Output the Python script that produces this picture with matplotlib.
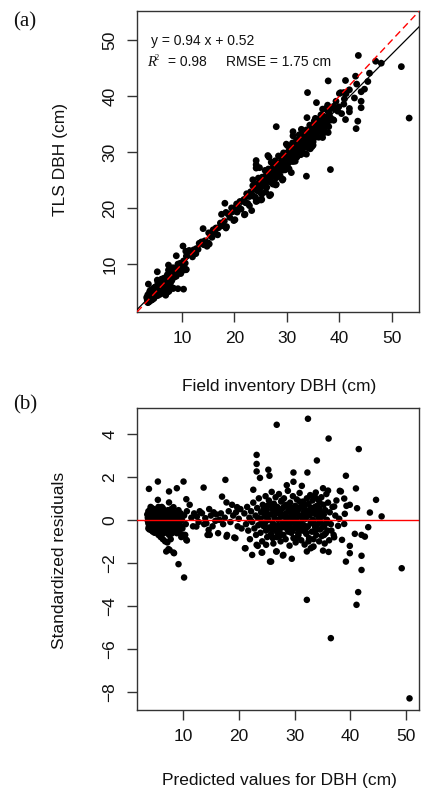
import numpy as np
import matplotlib
matplotlib.use("Agg")
import matplotlib.pyplot as plt

# ---- data: predicted DBH and standardized residuals ----
pred_left = [3.6, 3.7, 3.8, 3.9, 3.9, 4.0, 4.1, 4.1, 4.2, 4.3, 4.3, 4.4, 4.5, 4.5, 4.6, 4.7, 4.7, 4.8, 4.9, 4.9,
             5.0, 5.1, 5.1, 5.2, 5.3, 5.3, 5.4, 5.5, 5.5, 5.5, 5.6, 5.6, 5.7, 5.8, 5.8, 5.9, 6.0, 6.0, 6.1, 6.2,
             6.2, 6.3, 6.4, 6.4, 6.5, 6.6, 6.6, 6.7, 6.8, 6.8, 6.9, 7.0, 7.0, 7.1, 7.2, 7.2, 7.3, 7.4, 7.4, 7.5,
             7.5, 7.5, 7.6, 7.6, 7.7, 7.8, 7.8, 7.9, 8.0, 8.1, 8.2, 8.3, 8.3, 8.4, 8.4, 8.5, 8.6, 8.7, 8.8, 8.9,
             8.9, 9.0, 9.1, 9.2, 9.2, 9.3, 9.4, 9.5, 9.6, 9.7, 9.8, 9.9, 10.1, 10.1, 10.2, 10.2, 10.4, 10.5, 10.6, 10.6,
             10.7, 10.7, 11.2, 4.0, 4.4, 4.6, 5.0, 5.2, 5.4, 5.7, 6.0, 6.3, 6.5, 6.9, 7.1, 7.3, 7.7, 8.0, 8.2, 8.6,
             9.0, 9.4, 9.7, 3.8, 4.2, 4.8, 5.6, 6.1, 6.7, 7.9,
             3.7, 3.9, 4.1, 4.3, 4.5, 4.6, 4.8, 5.0, 5.1, 5.3, 5.4, 5.6, 5.8, 5.9, 6.1, 6.3, 6.5, 6.6, 6.8, 7.0,
             7.2, 7.4, 7.6, 7.8, 8.1, 8.3, 8.5, 8.8, 9.1, 9.3, 3.8, 4.2, 4.6, 5.2, 5.7, 6.2, 6.9, 7.3, 8.0, 8.7]
res_left = [0.25, -0.05, 0.4, 1.44, -0.2, 0.1, 0.47, -0.35, 0.0, -0.15, 0.3, -0.5, 0.15, -0.25, 0.05, -0.4, 0.35, -0.1, 0.2, -0.6,
            0.0, -0.3, 0.45, -0.15, 0.1, -0.55, 0.25, 1.78, 0.93, -0.2, -0.7, 0.05, 0.35, -0.35, 0.15, -0.05, -0.8, 0.3, 0.1, -0.45,
            0.6, -0.2, 0.54, -0.9, 0.0, -0.3, 0.2, -0.6, 0.4, -1.0, -0.15, -1.47, 0.15, -0.5, -1.05, 0.25, -0.25, -1.36, 0.0, 1.32,
            0.81, -0.7, -1.40, 0.3, -0.4, -0.9, 0.1, 0.5, -0.2, -0.6, 0.2, 0.59, -1.52, -1.55, -0.1, 0.35, -0.45, 0.05, -0.3, 1.47,
            -0.62, 0.25, -0.15, -2.06, 0.45, -0.5, 0.1, -0.25, 0.3, -0.8, 0.0, -0.4, 1.78, -0.70, -2.68, 0.2, -0.70, -0.2, 0.96, -0.93,
            -0.96, 0.4, 0.70, -0.45, 0.55, -0.3, 0.4, -0.45, -0.35, -0.5, 0.45, 0.15, -0.6, 0.35, -0.2, 0.45, 0.0, 0.3, -0.35, 0.15,
            -0.35, -0.6, 0.15, -0.4, 0.6, 0.5, 0.6, -0.75, -0.1, -0.65,
            0.1, -0.3, 0.2, -0.45, 0.35, -0.1, -0.3, 0.15, -0.5, 0.35, -0.05, 0.2, -0.55, 0.05, 0.25, -0.4, 0.3, -0.15, -0.45, -0.3,
            -0.1, 0.25, -0.2, 0.35, 0.05, -0.25, -0.5, 0.15, 0.05, -0.1, -0.15, 0.15, -0.55, -0.05, 0.1, -0.15, -0.35, -0.55, -0.45, -0.1]

pred_mid = [11.5, 11.8, 12.0, 12.4, 12.5, 12.8, 13.0, 13.4, 13.7, 13.8, 14.0, 14.2, 14.4, 14.6, 14.7, 14.8, 15.0, 15.3, 15.5, 15.8,
            16.0, 16.3, 16.5, 16.8, 17.0, 17.2, 17.5, 17.6, 17.8, 17.8, 17.9, 18.2, 18.5, 18.8, 19.0, 19.2, 19.4, 19.5, 19.7, 19.8,
            20.0, 20.3, 20.5]
res_mid = [0.1, -0.3, 0.3, -0.31, 0.15, -0.1, 0.4, 0.31, 1.50, -0.2, 0.08, -0.16, -0.70, -0.47, 0.50, -0.70, 0.2, -0.3, 0.35, -0.05,
           0.25, -0.62, 0.0, 0.3, 1.08, -0.2, 0.1, 1.86, 0.81, -0.78, -0.70, 0.4, -0.1, 0.70, 0.2, -0.82, -0.85, 0.35, 0.59, -0.3,
           0.05, 0.5, -0.4]

pred_dense = [22.6, 23.2, 23.2, 23.2, 23.8, 25.3, 25.5, 26.8, 32.4, 36.1, 34.0, 32.3, 29.8, 29.8, 28.6, 31.3, 33.8, 35.1, 36.0, 21.2,
              22.4, 24.2, 23.4, 25.6, 21.1, 24.1, 26.7, 27.9, 29.5, 32.2, 33.2, 35.1, 36.1, 23.2, 24.9, 32.2, 36.5, 33.4, 32.9, 28.0,
              26.8, 25.8,
              21.0, 21.3, 21.5, 21.7, 21.9, 22.0, 22.2, 22.4, 22.6, 22.8, 23.0, 23.1, 23.3, 23.5, 23.6, 23.8, 23.9, 24.0, 24.2, 24.3,
              24.5, 24.6, 24.8, 24.9, 25.0, 25.1, 25.3, 25.4, 25.5, 25.7, 25.8, 25.9, 26.0, 26.1, 26.2, 26.3, 26.4, 26.5, 26.6, 26.7,
              26.8, 26.9, 27.0, 27.1, 27.2, 27.3, 27.4, 27.5, 27.6, 27.7, 27.8, 27.9, 28.0, 28.1, 28.2, 28.3, 28.4, 28.5, 28.6, 28.7,
              28.8, 28.9, 29.0, 29.1, 29.2, 29.3, 29.4, 29.5, 29.6, 29.7, 29.8, 29.9, 30.0, 30.1, 30.2, 30.3, 30.4, 30.5, 30.6, 30.7,
              30.8, 30.9, 31.0, 31.1, 31.2, 31.3, 31.4, 31.5, 31.6, 31.7, 31.8, 31.9, 32.0, 32.1, 32.2, 32.3, 32.4, 32.5, 32.6, 32.7,
              32.8, 32.9, 33.0, 33.1, 33.2, 33.3, 33.4, 33.5, 33.6, 33.7, 33.8, 33.9, 34.0, 34.1, 34.2, 34.3, 34.4, 34.5, 34.6, 34.7,
              34.8, 34.9, 35.0, 35.2, 35.3, 35.4, 35.5, 35.6, 35.7, 35.8, 35.9, 36.0, 36.2, 36.3, 36.5, 36.6, 36.8, 37.0, 37.1, 37.1,
              37.3,
              22.1, 23.4, 24.7, 25.2, 26.35, 27.15, 27.95, 28.45, 29.25, 29.85, 30.35, 30.95, 31.55, 32.15, 32.85, 33.45, 34.15, 34.65,
              35.25, 25.6, 26.9, 28.75, 30.65, 31.85, 33.65, 35.65, 24.45, 27.55, 29.55, 31.35,
              24.1, 24.9, 25.7, 26.5, 27.3, 28.1, 28.9, 29.7, 30.5, 31.3, 32.1, 32.9, 33.7, 34.5, 35.3, 25.1, 26.1, 27.7, 29.1, 30.9,
              32.5, 34.3, 26.3, 28.3, 30.1, 31.7, 33.3, 35.0, 27.0, 29.9]
res_dense = [1.4, 3.02, 2.6, 2.25, 1.95, 2.33, 2.05, 4.42, 4.7, 3.78, 2.76, 2.2, 2.2, 1.77, 1.61, 1.58, 1.27, 1.47, 1.36, -1.32,
             -1.63, -1.52, -1.21, -1.94, -1.32, -1.52, -1.47, -1.66, -1.81, -1.47, -1.27, -1.43, -1.49, -1.16, -1.16, -3.72, -5.5, -1.24, -1.32, -1.63,
             -1.47, -1.94,
             0.3, -0.2, 0.6, -0.5, 0.1, -0.9, 0.4, -0.1, 0.8, -0.4, 0.2, -0.7, 0.55, -0.25, 1.0, 0.05, -0.6, 0.35, -1.0, 0.7,
             -0.3, 0.15, 1.1, -0.5, 0.45, -0.8, 0.0, 0.9, -0.35, 0.25, -0.65, 1.3, 0.5, -0.15, -1.1, 0.75, 0.1, -0.45, 1.05, 0.3,
             -0.8, 0.6, -0.25, 0.0, 1.2, -0.55, 0.4, -1.0, 0.85, 0.15, -0.35, 0.55, -0.7, 1.0, 0.25, -0.1, -0.9, 0.7, 0.05, -0.45,
             1.35, 0.4, -0.2, -1.2, 0.8, 0.15, -0.6, 0.5, -0.05, 1.1, -0.85, 0.3, -0.4, 0.65, -1.05, 0.0, 0.95, -0.3, 0.45, -0.7,
             0.2, 1.25, -0.15, 0.6, -0.95, 0.1, -0.5, 0.85, 0.35, -0.25, -1.15, 0.7, 0.05, -0.6, 1.0, 0.4, -0.3, 0.75, -0.85, 0.2,
             1.15, -0.1, 0.55, -0.55, 0.9, 0.0, -0.9, 0.45, 1.1, -0.35, 0.25, -0.7, 0.65, -0.2, 0.95, 0.1, -1.0, 0.5, -0.45, 0.3,
             1.05, -0.75, 0.15, 0.7, -0.3, -1.1, 0.45, -0.62, 1.2, 0.0, -0.5, 0.8, -0.95, 0.35, -0.2, -0.50, 0.6, -0.7, 0.62, -0.81,
             0.2,
             0.0, 0.1, -0.15, 0.2, -0.3, 0.45, -0.15, 0.3, -0.35, 0.1, 0.35, -0.45, 0.05, -0.35, 0.3, -0.2, 0.4, -0.1,
             0.25, 0.7, -0.6, 0.65, -0.6, 0.5, 0.6, -0.15, 0.5, 0.2, -0.55, -0.3,
             -0.2, 0.3, -0.4, 0.5, -0.75, 0.6, -0.55, 0.35, -0.8, 0.7, -0.65, 0.55, -0.5, 0.8, -0.7, 0.65, -0.85, 0.9, 0.6, 0.85,
             -1.0, 0.55, 0.4, -0.3, -0.2, 0.25, -0.1, -0.35, -0.5, 0.45]

pred_high = [37.8, 38.1, 38.3, 38.5, 38.9, 38.9, 39.0, 39.2, 39.2, 39.3, 39.9, 39.9, 39.9, 40.8, 41.0, 41.1, 41.2, 41.4, 41.5, 42.0,
             42.0, 42.0, 42.6, 43.2, 43.5, 44.6, 45.6, 49.2, 50.6, 37.5, 38.0]
res_high = [-0.28, 1.35, 1.32, -0.93, 0.99, -0.19, 0.28, 2.05, -1.94, 0.65, 0.70, -1.21, -1.55, -0.65, 1.46, -3.95, 0.54, -3.36, 3.29, -0.70,
            -1.67, -2.33, -0.78, -0.34, 0.34, 0.93, 0.16, -2.25, -8.3, 0.9, 0.05]

slope, intercept, rmse = 0.94, 0.52, 1.75
x_ticks = [10, 20, 30, 40, 50]
y_ticks_top = [10, 20, 30, 40, 50]
y_ticks_bot = [-8, -6, -4, -2, 0, 2, 4]

pred = np.array(pred_left + pred_mid + pred_dense + pred_high)
stdres = np.array(res_left + res_mid + res_dense + res_high)
# reconstruct field and TLS DBH from the fitted line
field = (pred - intercept) / slope
tls = pred + stdres * rmse

W, H = 422, 794
fig = plt.figure(figsize=(W / 100, H / 100), dpi=100)
FONT = ["Liberation Sans", "DejaVu Sans"]
SERIF = ["Liberation Serif", "DejaVu Serif"]
plt.rcParams['font.family'] = FONT
TC = '#111111'

def ax_rect(l, t, r, b):
    return [l / W, 1 - b / H, (r - l) / W, (b - t) / H]

def style(ax, xt, yt):
    for s in ax.spines.values():
        s.set_linewidth(1.0)
        s.set_color("#333333")
    ax.set_xticks(xt)
    ax.set_yticks(yt)
    ax.tick_params(axis='both', direction='out', length=7, width=1, color="#333333",
                   labelsize=12.5, labelcolor=TC)
    ax.tick_params(axis='x', pad=7)
    ax.tick_params(axis='y', pad=7)
    for lab in ax.get_yticklabels():
        lab.set_rotation(90)
        lab.set_va('center')

# ---- top panel ----
ax1 = fig.add_axes(ax_rect(137, 11, 419, 312))
ax1.set_xlim(1.43, 55.15)
ax1.set_ylim(1.43, 55.2)
ax1.scatter(field, tls, s=24, color='black', edgecolors='none', zorder=2)
ax1.axline((0, intercept), slope=slope, color='black', lw=0.9, zorder=3)
ax1.axline((0, 0), slope=1, color='red', lw=1.0, ls=(0, (5, 3)), zorder=4)
style(ax1, x_ticks, y_ticks_top)
fig.text(151 / W, 1 - 41 / H, 'y = 0.94 x + 0.52', fontsize=10, va='center', ha='left', color=TC)
fig.text(147 / W, 1 - 62 / H, 'R', fontsize=10.5, va='center', ha='left', family=SERIF,
         style='italic', color=TC)
fig.text(155 / W, 1 - 58 / H, '2', fontsize=6, va='center', ha='left', family=SERIF, color=TC)
fig.text(168 / W, 1 - 62 / H, '= 0.98', fontsize=10, va='center', ha='left', color=TC)
fig.text(226 / W, 1 - 62 / H, 'RMSE = 1.75 cm', fontsize=10, va='center', ha='left', color=TC)
fig.text(279 / W, 1 - 386 / H, 'Field inventory DBH (cm)', fontsize=12.5, ha='center', va='center', color=TC)
fig.text(60 / W, 1 - 160 / H, 'TLS DBH (cm)', fontsize=12.5, ha='center', va='center', rotation=90, color=TC)
fig.text(25 / W, 1 - 22 / H, '(a)', fontsize=15, ha='center', va='center', family=SERIF, color=TC)

# ---- bottom panel ----
ax2 = fig.add_axes(ax_rect(137, 408, 419, 710))
ax2.set_xlim(1.76, 52.3)
ax2.set_ylim(-8.84, 5.2)
ax2.scatter(pred, stdres, s=22, color='black', edgecolors='none', zorder=2)
ax2.axhline(0, color='red', lw=1.0, zorder=3)
style(ax2, x_ticks, y_ticks_bot)
fig.text(279 / W, 1 - 781 / H, 'Predicted values for DBH (cm)', fontsize=12.5, ha='center', va='center', color=TC)
fig.text(60 / W, 1 - 560 / H, 'Standardized residuals', fontsize=12.5, ha='center', va='center', rotation=90, color=TC)
fig.text(25 / W, 1 - 405 / H, '(b)', fontsize=15, ha='center', va='center', family=SERIF, color=TC)

fig.savefig('out.png', dpi=100)
